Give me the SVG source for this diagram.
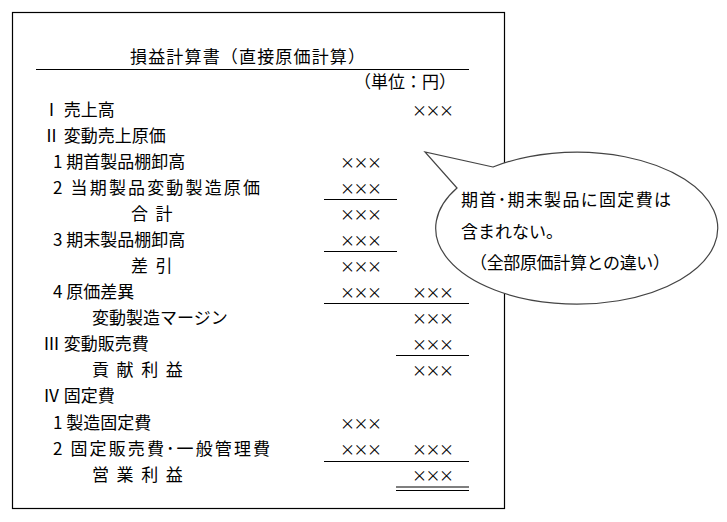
<svg xmlns="http://www.w3.org/2000/svg" width="727" height="522" viewBox="0 0 727 522">
<style>
text{font-family:"Noto Sans CJK JP","Liberation Sans",sans-serif;font-size:17px;fill:#000}
.x{font-family:"Noto Sans CJK JP",sans-serif;font-size:15px}
.l{stroke:#000;stroke-width:1.2;fill:none}
</style>
<rect width="727" height="522" fill="#fff"/>
<g id="statement">
<rect x="12.5" y="12.5" width="492" height="496" class="l"/>
<text x="130" y="63" font-size="18" textLength="235">損益計算書（直接原価計算）</text>
<line x1="36" y1="69.5" x2="469" y2="69.5" class="l"/>
<text x="456" y="88" text-anchor="end" font-size="13">（単位：円）</text>
</g>
<g id="rows">
<text x="43" y="116">Ⅰ 売上高</text>
<text x="43" y="142">Ⅱ 変動売上原価</text>
<text x="53" y="168">1 期首製品棚卸高</text>
<text x="53" y="194" textLength="207">2 当期製品変動製造原価</text>
<text x="131" y="220" xml:space="preserve">合  計</text>
<text x="53" y="246">3 期末製品棚卸高</text>
<text x="131" y="272" xml:space="preserve">差  引</text>
<text x="53" y="298">4 原価差異</text>
<text x="92" y="324">変動製造マージン</text>
<text x="43" y="350">Ⅲ 変動販売費</text>
<text x="92" y="376" xml:space="preserve">貢  献  利  益</text>
<text x="43" y="402">Ⅳ 固定費</text>
<text x="53" y="429">1 製造固定費</text>
<text x="53" y="455" textLength="217">2 固定販売費･一般管理費</text>
<text x="92" y="481" xml:space="preserve">営  業  利  益</text>
</g>
<g id="amounts">
<text class="x" x="412" y="116" textLength="42">×××</text>
<text class="x" x="340" y="168" textLength="42">×××</text>
<text class="x" x="340" y="194" textLength="42">×××</text>
<text class="x" x="340" y="220" textLength="42">×××</text>
<text class="x" x="340" y="246" textLength="42">×××</text>
<text class="x" x="340" y="272" textLength="42">×××</text>
<text class="x" x="340" y="298" textLength="42">×××</text>
<text class="x" x="412" y="298" textLength="42">×××</text>
<text class="x" x="412" y="324" textLength="42">×××</text>
<text class="x" x="412" y="350" textLength="42">×××</text>
<text class="x" x="412" y="376" textLength="42">×××</text>
<text class="x" x="340" y="429" textLength="42">×××</text>
<text class="x" x="340" y="455" textLength="42">×××</text>
<text class="x" x="412" y="455" textLength="42">×××</text>
<text class="x" x="412" y="481" textLength="42">×××</text>
</g>
<g id="rules">
<line x1="324" y1="199.5" x2="397" y2="199.5" class="l"/>
<line x1="324" y1="251.5" x2="397" y2="251.5" class="l"/>
<line x1="324" y1="303.5" x2="469" y2="303.5" class="l"/>
<line x1="396" y1="355.5" x2="469" y2="355.5" class="l"/>
<line x1="324" y1="461.5" x2="469" y2="461.5" class="l"/>
<line x1="396" y1="487" x2="469" y2="487" class="l"/>
<line x1="396" y1="490.5" x2="469" y2="490.5" class="l"/>
</g>
<g id="bubble">
<path d="M493 167 L425 152 L457 188 A141 76 0 1 0 493 167 Z" fill="#fff" stroke="#444" stroke-width="1.2"/>
<text x="461" y="206" textLength="210">期首･期末製品に固定費は</text>
<text x="461" y="238">含まれない。</text>
<text x="470" y="269" textLength="200">（全部原価計算との違い）</text>
</g>
</svg>
